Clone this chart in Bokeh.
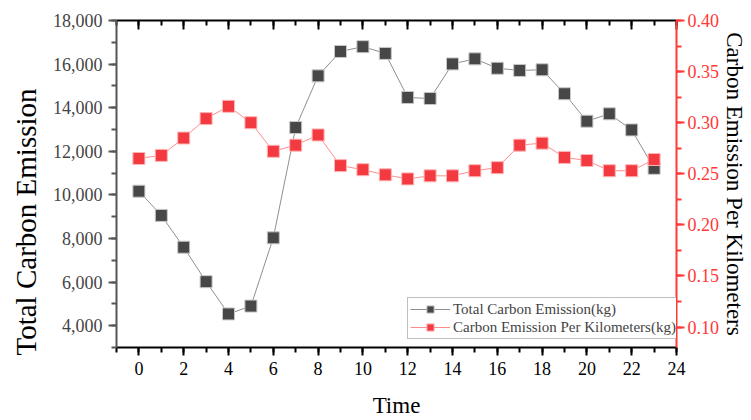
from bokeh.plotting import figure
from bokeh.models import (Range1d, LinearAxis, FixedTicker, NumeralTickFormatter,
                          Legend, LegendItem, Title)
from bokeh.embed import file_html
from bokeh.resources import INLINE

# ---- data ----
hours = list(range(24))
total_emission = [10170, 9060, 7600, 6020, 4540, 4900, 8030, 13090, 15460, 16580,
                  16800, 16490, 14470, 14420, 16010, 16240, 15810, 15710, 15740,
                  14640, 13380, 13720, 12980, 11220]
per_km = [0.265, 0.268, 0.285, 0.304, 0.316, 0.300, 0.272, 0.278, 0.288, 0.258,
          0.254, 0.249, 0.245, 0.248, 0.248, 0.253, 0.256, 0.278, 0.280, 0.266,
          0.263, 0.253, 0.253, 0.264]
x_ticks = list(range(0, 25, 2))
x_minor = list(range(-1, 25))
left_ticks = list(range(4000, 18001, 2000))
left_minor = list(range(3000, 18001, 1000))
right_ticks = [0.10, 0.15, 0.20, 0.25, 0.30, 0.35, 0.40]
right_minor = [0.075, 0.10, 0.125, 0.15, 0.175, 0.20, 0.225, 0.25, 0.275, 0.30,
               0.325, 0.35, 0.375, 0.40]
series_names = ["Total Carbon Emission(kg)", "Carbon Emission Per Kilometers(kg)"]
left_title = "Total Carbon Emission"
right_title = "Carbon Emission Per Kilometers"
x_title = "Time"

FONT = "Liberation Serif"
RED = "#ff3838"
MARK_RED = "#f23a40"
MARK_BLK = "#474747"

p = figure(width=751, height=420, x_range=Range1d(-1, 24), y_range=Range1d(3000, 18000),
           output_backend="svg", toolbar_location=None,
           min_border_left=116, min_border_right=75, min_border_top=20, min_border_bottom=73)
p.extra_y_ranges = {"right": Range1d(0.08, 0.40)}
p.xgrid.visible = False
p.ygrid.visible = False
p.outline_line_color = None
p.background_fill_color = "white"
p.border_fill_color = "white"

# lines + markers
l1 = p.line(hours, total_emission, line_color="#8f8f8f", line_width=1)
s1 = p.scatter(hours, total_emission, marker="square", size=12, fill_color=MARK_BLK,
               line_color="#c8c8c8", line_width=1)
l2 = p.line(hours, per_km, line_color="#ff8c8c", line_width=1, y_range_name="right")
s2 = p.scatter(hours, per_km, marker="square", size=12, fill_color=MARK_RED,
               line_color="#ffb4b4", line_width=1, y_range_name="right")

# bottom axis
xa = p.xaxis[0]
xa.ticker = FixedTicker(ticks=x_ticks, minor_ticks=x_minor)
xa.axis_label = x_title
xa.axis_label_text_font = FONT
xa.axis_label_text_font_size = "23px"
xa.axis_label_text_font_style = "normal"
xa.axis_label_text_color = "black"
xa.axis_label_standoff = 15
xa.major_label_text_font = FONT
xa.major_label_text_font_size = "18px"
xa.major_label_text_color = "black"
xa.major_label_standoff = 6
xa.axis_line_color = "black"
xa.axis_line_width = 2
xa.major_tick_line_color = "black"
xa.major_tick_line_width = 2
xa.minor_tick_line_color = "black"
xa.minor_tick_line_width = 2
xa.major_tick_in = 0
xa.major_tick_out = 8
xa.minor_tick_in = 0
xa.minor_tick_out = 5

# top axis (mirror, ticks inside, labels not drawn)
ta = LinearAxis(ticker=FixedTicker(ticks=x_ticks, minor_ticks=x_minor))
ta.major_label_text_font_size = "6px"
ta.major_label_text_color = None
ta.major_label_standoff = 0
ta.axis_line_color = "black"
ta.axis_line_width = 2
ta.major_tick_line_color = "black"
ta.major_tick_line_width = 2
ta.minor_tick_line_color = "black"
ta.minor_tick_line_width = 2
ta.major_tick_in = 9
ta.major_tick_out = 0
ta.minor_tick_in = 5
ta.minor_tick_out = 0
p.add_layout(ta, "above")

# left axis
ya = p.yaxis[0]
ya.ticker = FixedTicker(ticks=left_ticks, minor_ticks=left_minor)
ya.formatter = NumeralTickFormatter(format="0,0")
ya.major_label_text_font = FONT
ya.major_label_text_font_size = "18px"
ya.major_label_text_color = "#444444"
ya.major_label_standoff = 6
ya.axis_line_color = "#555555"
ya.axis_line_width = 2
ya.major_tick_line_color = "#555555"
ya.major_tick_line_width = 2
ya.minor_tick_line_color = "#555555"
ya.minor_tick_line_width = 2
ya.major_tick_in = 0
ya.major_tick_out = 8
ya.minor_tick_in = 0
ya.minor_tick_out = 5

# left title: starts just below the frame bottom, as in the reference
p.add_layout(Title(text=left_title, align="left", offset=-8, standoff=14,
                   vertical_align="middle",
                   text_font=FONT, text_font_size="29px", text_font_style="normal",
                   text_color="black"), "left")

# right axis
ra = LinearAxis(y_range_name="right",
                ticker=FixedTicker(ticks=right_ticks, minor_ticks=right_minor),
                formatter=NumeralTickFormatter(format="0.00"))
ra.axis_label = right_title
ra.axis_label_text_font = FONT
ra.axis_label_text_font_size = "23px"
ra.axis_label_text_font_style = "normal"
ra.axis_label_text_color = "black"
ra.axis_label_standoff = 0
ra.major_label_text_font = FONT
ra.major_label_text_font_size = "18px"
ra.major_label_text_color = RED
ra.major_label_standoff = 3
ra.axis_line_color = RED
ra.axis_line_width = 2
ra.major_tick_line_color = RED
ra.major_tick_line_width = 2
ra.minor_tick_line_color = RED
ra.minor_tick_line_width = 2
ra.major_tick_in = 0
ra.major_tick_out = 8
ra.minor_tick_in = 0
ra.minor_tick_out = 5
p.add_layout(ra, "right")

legend = Legend(items=[LegendItem(label=series_names[0], renderers=[l1, s1]),
                       LegendItem(label=series_names[1], renderers=[l2, s2])],
                location=(291, 8), margin=0, padding=2, spacing=0,
                glyph_width=40, glyph_height=18, label_height=18, label_standoff=3,
                label_text_font=FONT, label_text_font_size="15px",
                border_line_color="#808080", border_line_width=1,
                background_fill_color="white", background_fill_alpha=1)
p.add_layout(legend)

open("out.html", "w").write(file_html(p, INLINE))
